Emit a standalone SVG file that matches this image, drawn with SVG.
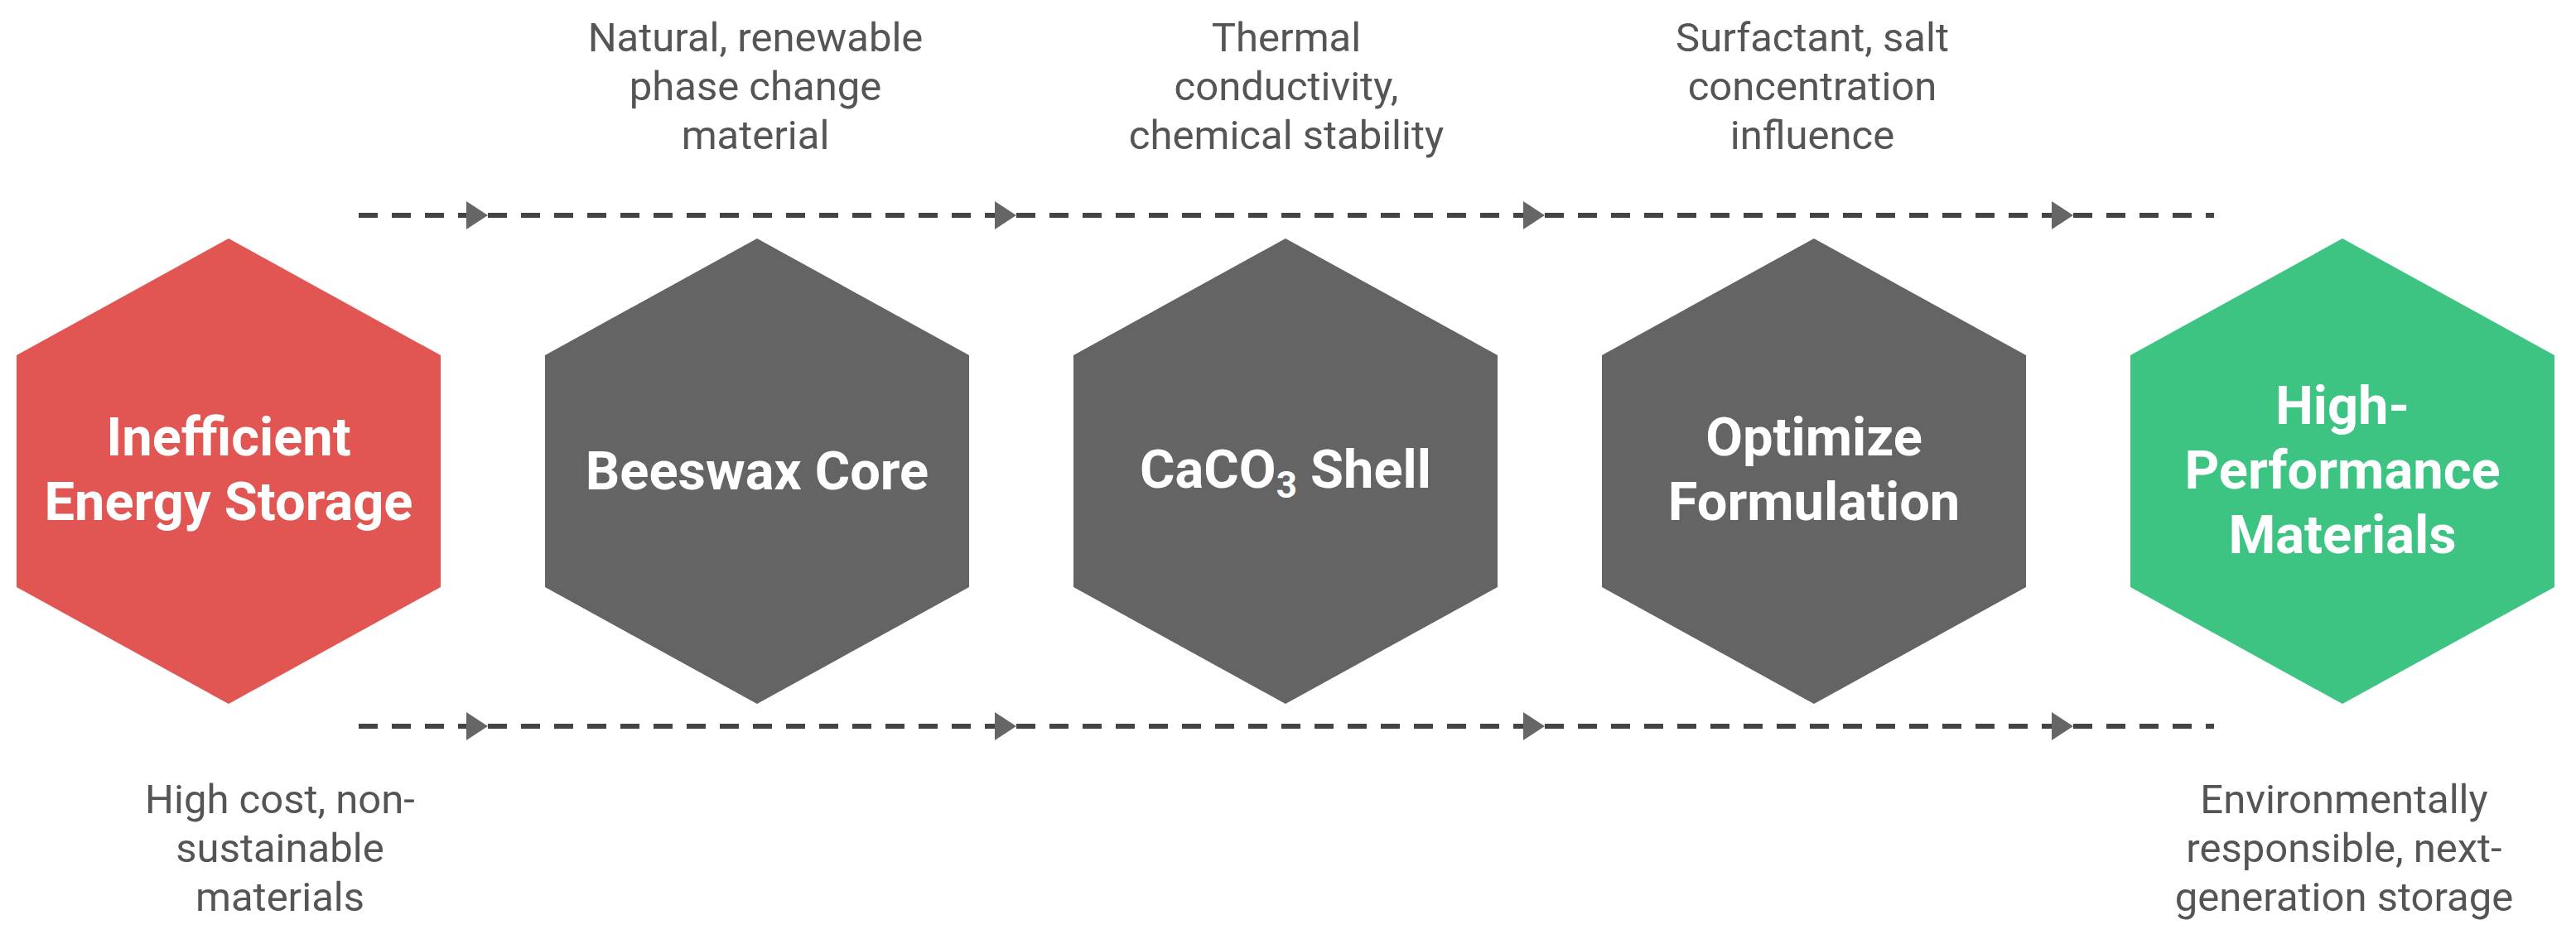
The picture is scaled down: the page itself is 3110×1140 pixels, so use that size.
<svg xmlns="http://www.w3.org/2000/svg" width="3110" height="1140" viewBox="0 0 3110 1140">
<defs>
<style>
.hex{stroke:none}
.red{fill:#E15552}
.grey{fill:#646464}
.green{fill:#3DC483}
.ht{font-family:Roboto,"Liberation Sans",sans-serif;font-weight:700;font-size:65px;fill:#ffffff;text-anchor:middle}
.dt{font-family:Roboto,"Liberation Sans",sans-serif;font-weight:400;font-size:49px;fill:#555555;text-anchor:middle}
.dash{stroke:#444444;stroke-width:6;stroke-dasharray:23 17;fill:none}
</style>
<marker id="arr" viewBox="0 0 26 34" refX="26" refY="17" markerWidth="26" markerHeight="34" markerUnits="userSpaceOnUse" orient="auto">
<path d="M0,0 L26,17 L0,34 Z" fill="#666666"/>
</marker>
<polygon id="hexshape" points="0,-281 256,-140 256,140 0,281 -256,140 -256,-140"/>
</defs>
<rect width="3110" height="1140" fill="#ffffff"/>
<g id="connectors">
<path class="dash" d="M433,260 H589" marker-end="url(#arr)"/>
<path class="dash" d="M589,260 H1227" marker-end="url(#arr)"/>
<path class="dash" d="M1227,260 H1865" marker-end="url(#arr)"/>
<path class="dash" d="M1865,260 H2503" marker-end="url(#arr)"/>
<path class="dash" d="M2503,260 H2673"/>
<path class="dash" d="M433,877 H589" marker-end="url(#arr)"/>
<path class="dash" d="M589,877 H1227" marker-end="url(#arr)"/>
<path class="dash" d="M1227,877 H1865" marker-end="url(#arr)"/>
<path class="dash" d="M1865,877 H2503" marker-end="url(#arr)"/>
<path class="dash" d="M2503,877 H2673"/>
</g>
<g id="node-inefficient">
<use href="#hexshape" class="red" x="276" y="569"/>
<text class="ht" x="276" y="550">Inefficient</text>
<text class="ht" x="276" y="628">Energy Storage</text>
<text class="dt" x="338" y="982">High cost, non-</text>
<text class="dt" x="338" y="1041">sustainable</text>
<text class="dt" x="338" y="1100">materials</text>
</g>
<g id="node-beeswax">
<use href="#hexshape" class="grey" x="914" y="569"/>
<text class="ht" x="914" y="591">Beeswax Core</text>
<text class="dt" x="912" y="62">Natural, renewable</text>
<text class="dt" x="912" y="121">phase change</text>
<text class="dt" x="912" y="180">material</text>
</g>
<g id="node-caco3">
<use href="#hexshape" class="grey" x="1552" y="569"/>
<text class="ht" x="1552" y="589">CaCO<tspan font-size="44" dy="12">3</tspan><tspan dy="-12"> Shell</tspan></text>
<text class="dt" x="1553" y="62">Thermal</text>
<text class="dt" x="1553" y="121">conductivity,</text>
<text class="dt" x="1553" y="180">chemical stability</text>
</g>
<g id="node-optimize">
<use href="#hexshape" class="grey" x="2190" y="569"/>
<text class="ht" x="2190" y="550">Optimize</text>
<text class="ht" x="2190" y="628">Formulation</text>
<text class="dt" x="2188" y="62">Surfactant, salt</text>
<text class="dt" x="2188" y="121">concentration</text>
<text class="dt" x="2188" y="180">influence</text>
</g>
<g id="node-highperf">
<use href="#hexshape" class="green" x="2828" y="569"/>
<text class="ht" x="2828" y="512">High-</text>
<text class="ht" x="2828" y="590">Performance</text>
<text class="ht" x="2828" y="668">Materials</text>
<text class="dt" x="2830" y="982">Environmentally</text>
<text class="dt" x="2830" y="1041">responsible, next-</text>
<text class="dt" x="2830" y="1100">generation storage</text>
</g>
</svg>
